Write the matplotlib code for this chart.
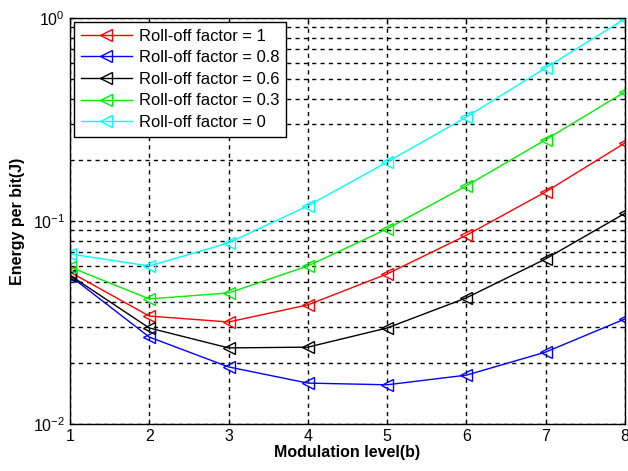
import matplotlib
matplotlib.use('Agg')
import matplotlib.pyplot as plt
from matplotlib.ticker import LogLocator, NullFormatter
import numpy as np

plt.rcParams['font.family'] = ['Liberation Sans', 'DejaVu Sans']

levels = [1, 2, 3, 4, 5, 6, 7, 8]
rolloff_1 = [0.056, 0.034, 0.0318, 0.0386, 0.0548, 0.085, 0.139, 0.242]
rolloff_08 = [0.0536, 0.0268, 0.0191, 0.0159, 0.0156, 0.0174, 0.0226, 0.0329]
rolloff_06 = [0.054, 0.0297, 0.0237, 0.0239, 0.0297, 0.0418, 0.065, 0.109]
rolloff_03 = [0.0593, 0.0413, 0.0442, 0.060, 0.0914, 0.149, 0.251, 0.432]
rolloff_0 = [0.0688, 0.060, 0.078, 0.1186, 0.195, 0.325, 0.567, 0.99]

series = [
    ('Roll-off factor = 1', rolloff_1, 'red'),
    ('Roll-off factor = 0.8', rolloff_08, 'blue'),
    ('Roll-off factor = 0.6', rolloff_06, 'black'),
    ('Roll-off factor = 0.3', rolloff_03, '#00ee00'),
    ('Roll-off factor = 0', rolloff_0, 'cyan'),
]

fig = plt.figure(figsize=(6.28, 4.71), dpi=100)
ax = fig.add_axes([0.1115, 0.0998, 0.8835, 0.8622])

for label, vals, col in series:
    ax.plot(levels, vals, marker='<', color=col, markerfacecolor='none',
            markersize=9, linewidth=1, label=label)

ax.set_yscale('log')
ax.set_xlim(1, 8)
ax.set_ylim(0.01, 1)
ax.yaxis.set_major_locator(LogLocator(base=10, numticks=5))
ax.yaxis.set_minor_locator(LogLocator(base=10, subs=np.arange(2, 10), numticks=10))
ax.yaxis.set_minor_formatter(NullFormatter())
ax.grid(True, which='both', color='black', linestyle=(0, (3, 3)), linewidth=1)
ax.tick_params(direction='in', which='both', labelsize=11.5, top=True, right=True)
for s in ax.spines.values():
    s.set_linewidth(1)

ax.set_xlabel('Modulation level(b)', fontsize=11.5, fontweight='bold', labelpad=1)
ax.set_ylabel('Energy per bit(J)', fontsize=11.5, fontweight='bold', labelpad=6)

leg = ax.legend(loc='upper left', fontsize=11.9, fancybox=False, framealpha=1,
                edgecolor='black', borderaxespad=0.25, handlelength=3.1,
                handletextpad=0.4, labelspacing=0.4, borderpad=0.4)
leg.get_frame().set_linewidth(1)

fig.savefig('out.png', dpi=100)
